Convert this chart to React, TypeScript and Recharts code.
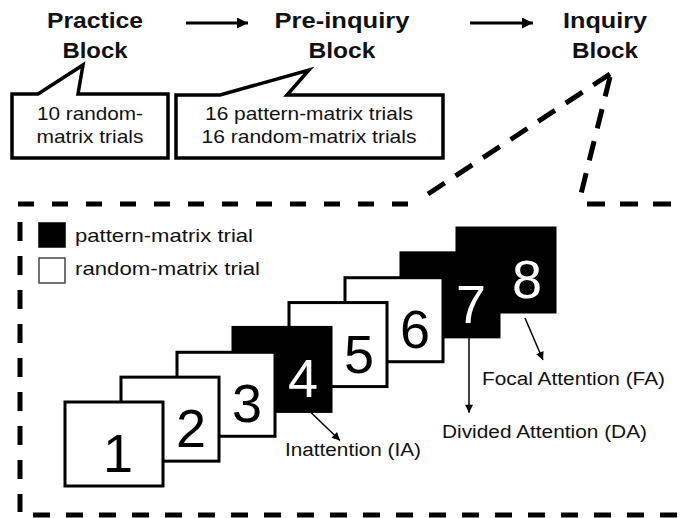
import { Scatter, ScatterChart, XAxis, YAxis } from 'recharts'

// trial sequence of the inquiry block
const trialNumbers = [1, 2, 3, 4, 5, 6, 7, 8]
const trialKinds = ['random', 'random', 'random', 'pattern', 'random', 'random', 'pattern', 'pattern']

// block flow on top
const blockTitles = [
  ['Practice', 'Block'],
  ['Pre-inquiry', 'Block'],
  ['Inquiry', 'Block']
]
const blockContents = [
  ['10 random-', 'matrix trials'],
  ['16 pattern-matrix trials', '16 random-matrix trials']
]

const legendLabels = ['pattern-matrix trial', 'random-matrix trial']
const legendKinds = ['pattern', 'random']

// probe trials and their attention condition
const probeTrials = [4, 7, 8]
const probeLabels = ['Inattention (IA)', 'Divided Attention (DA)', 'Focal Attention (FA)']

const FONT = '"Liberation Sans", Arial, sans-serif'
const BOX_W = 98
const BOX_H = 84

// layout of the drawing (pixels)
const titleLayout = [
  { x: 95, w: [96, 65] },
  { x: 342, w: [135, 67] },
  { x: 605, w: [84, 66] }
]
const calloutLayout = [
  { x0: 12, x1: 168, y0: 94, y1: 158, tail: [38, 83, 65, 78], cx: 90, w: [106, 107] },
  { x0: 176, x1: 443, y0: 95, y1: 158, tail: [220, 309, 70, 287], cx: 309, w: [208, 215] }
]
// offsets from the card's left / bottom edge
const probeLayout = [
  { a: [78, 1, 107, 29], tx: 52, ty: 45, w: 136 },
  { a: [68, 0, 68, 76], tx: 41, ty: 101, w: 205 },
  { a: [68, 6, 86, 48], tx: 25, ty: 73, w: 183 }
]

type Trial = { trial: number; kind: string }

const trials: Trial[] = trialNumbers.map((t, i) => ({ trial: t, kind: trialKinds[i] }))
// draw later cards first so earlier cards sit on top
const drawOrder = [...trials].reverse()

function TrialCard(props: any) {
  const { cx, cy, payload } = props
  const left = cx - BOX_W / 2
  const top = cy - BOX_H / 2
  const bottom = top + BOX_H
  const dark = payload.kind === 'pattern'
  const numX = payload.trial === trialNumbers[0] ? cx + 4 : cx + 21
  const p = probeTrials.indexOf(payload.trial)
  const pl = p >= 0 ? probeLayout[p] : null
  return (
    <g>
      <rect x={left} y={top} width={BOX_W} height={BOX_H} fill={dark ? '#000' : '#fff'} stroke="#000" strokeWidth={3} />
      <text x={numX} y={top + 70} textAnchor="middle" fontSize={54} fontFamily={FONT} fill={dark ? '#fff' : '#000'}>
        {payload.trial}
      </text>
      {pl && (
        <g>
          <line
            x1={left + pl.a[0]}
            y1={bottom + pl.a[1]}
            x2={left + pl.a[2]}
            y2={bottom + pl.a[3]}
            stroke="#000"
            strokeWidth={1.5}
            markerEnd="url(#headSmall)"
          />
          <text
            x={left + pl.tx}
            y={bottom + pl.ty}
            fontSize={18}
            fontFamily={FONT}
            fill="#111"
            textLength={pl.w}
            lengthAdjust="spacingAndGlyphs"
          >
            {probeLabels[p]}
          </text>
        </g>
      )}
    </g>
  )
}

function Overlay() {
  return (
    <g>
      <defs>
        <marker id="headSmall" viewBox="0 0 10 10" refX="10" refY="5" markerWidth="9" markerHeight="8" markerUnits="userSpaceOnUse" orient="auto">
          <path d="M0,0 L10,5 L0,10 z" fill="#000" />
        </marker>
        <marker id="headBig" viewBox="0 0 10 10" refX="10" refY="5" markerWidth="13" markerHeight="11" markerUnits="userSpaceOnUse" orient="auto">
          <path d="M0,0 L10,5 L0,10 z" fill="#000" />
        </marker>
      </defs>

      {blockTitles.map((lines, i) => (
        <g key={lines[0]}>
          {lines.map((s, j) => (
            <text
              key={s}
              x={titleLayout[i].x}
              y={j === 0 ? 28 : 58}
              textAnchor="middle"
              fontSize={22}
              fontWeight="bold"
              fontFamily={FONT}
              fill="#111"
              textLength={titleLayout[i].w[j]}
              lengthAdjust="spacingAndGlyphs"
            >
              {s}
            </text>
          ))}
        </g>
      ))}

      <line x1={186} y1={23} x2={248} y2={23} stroke="#000" strokeWidth={3} markerEnd="url(#headBig)" />
      <line x1={470} y1={23} x2={533} y2={23} stroke="#000" strokeWidth={3} markerEnd="url(#headBig)" />

      {blockContents.map((lines, i) => {
        const c = calloutLayout[i]
        const d = `M${c.x0},${c.y0} L${c.tail[0]},${c.y0} L${c.tail[1]},${c.tail[2]} L${c.tail[3]},${c.y0} L${c.x1},${c.y0} L${c.x1},${c.y1} L${c.x0},${c.y1} Z`
        return (
          <g key={i}>
            <path d={d} fill="#fff" stroke="#000" strokeWidth={3.5} strokeLinejoin="miter" />
            {lines.map((s, j) => (
              <text
                key={s}
                x={c.cx}
                y={j === 0 ? 120 : 143}
                textAnchor="middle"
                fontSize={19}
                fontFamily={FONT}
                fill="#111"
                textLength={c.w[j]}
                lengthAdjust="spacingAndGlyphs"
              >
                {s}
              </text>
            ))}
          </g>
        )
      })}

      {/* zoom-in frame of the inquiry block */}
      <g stroke="#000" strokeWidth={5} fill="none">
        <path d="M610,74 L425,196" strokeDasharray="20 13" />
        <path d="M610,77 L580,198" strokeDasharray="20 13" />
        <path d="M587,204 H683" strokeDasharray="18 15" />
        <path d="M18,204 H412" strokeDasharray="16 18" />
        <path d="M20,222 V512" strokeDasharray="19 15" />
        <path d="M33,515 H683" strokeDasharray="17 16" />
      </g>

      {legendLabels.map((s, i) => (
        <g key={s}>
          <rect
            x={39}
            y={i === 0 ? 223 : 258}
            width={26}
            height={i === 0 ? 24 : 25}
            fill={legendKinds[i] === 'pattern' ? '#000' : '#fff'}
            stroke={legendKinds[i] === 'pattern' ? '#000' : '#444'}
            strokeWidth={1.5}
          />
          <text
            x={75}
            y={i === 0 ? 242 : 275}
            fontSize={19}
            fontFamily={FONT}
            fill="#111"
            textLength={i === 0 ? 178 : 185}
            lengthAdjust="spacingAndGlyphs"
          >
            {s}
          </text>
        </g>
      ))}
    </g>
  )
}

export default function App() {
  return (
    <div style={{ position: 'absolute', left: 0, top: 0, width: 683, height: 518, background: '#fff' }}>
      <ScatterChart width={683} height={518} margin={{ left: 114, right: 177, top: 270, bottom: 74 }}>
        <XAxis type="number" dataKey="trial" domain={[1, 8]} hide />
        <YAxis type="number" dataKey="trial" domain={[1, 8]} hide />
        <Overlay />
        <Scatter data={drawOrder} shape={TrialCard} isAnimationActive={false} />
      </ScatterChart>
    </div>
  )
}
